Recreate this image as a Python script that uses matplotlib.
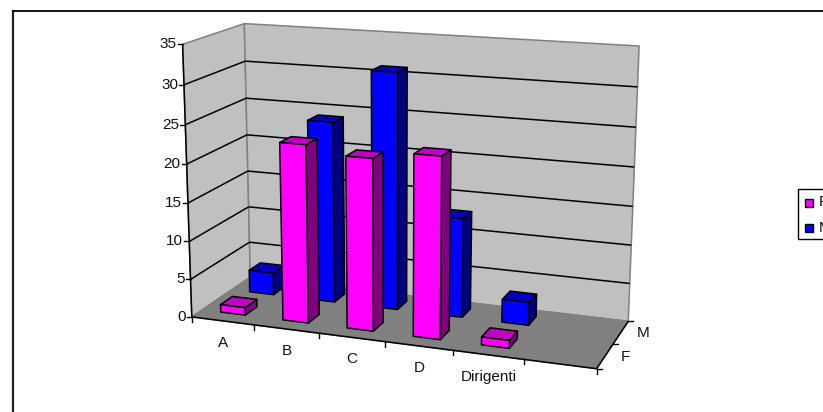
import numpy as np
import matplotlib
matplotlib.use('Agg')
import matplotlib.pyplot as plt
from matplotlib.patches import Polygon, Rectangle

plt.rcParams['font.family'] = ['Liberation Sans', 'DejaVu Sans']

############ data ##################################################################

# the sixth category is blank in the chart
categories = ['A', 'B', 'C', 'D', 'Dirigenti', '']
series_names = ['F', 'M']
values_F = [1, 23, 22, 23, 1, 0]
values_M = [3, 24, 31, 13, 3, 0]
value_ticks = [0, 5, 10, 15, 20, 25, 30, 35]

############ projection ############################################################

# box corners (category, series, value) and where they land on the picture
n_cat = len(categories)
box = [(0, 0, 0), (0, 0, 35), (0, 2, 0), (0, 2, 35), (n_cat, 2, 35), (n_cat, 2, 0), (n_cat, 0, 0)]
img = [(192, 316), (182, 45), (250, 278), (245, 23), (639, 46), (628, 321), (597, 369)]

def fit_camera(box, img):
    rows = []
    rhs = []
    for (x, y, z), (u, v) in zip(box, img):
        rows.append([x, y, z, 1, 0, 0, 0, 0, -u*x, -u*y, -u*z])
        rhs.append(u)
        rows.append([0, 0, 0, 0, x, y, z, 1, -v*x, -v*y, -v*z])
        rhs.append(v)
    m = np.linalg.lstsq(np.array(rows, float), np.array(rhs, float), rcond=None)[0]
    return np.append(m, 1).reshape(3, 4)

cam = fit_camera(box, img)

def proj(x, y, z):
    p = cam @ np.array([x, y, z, 1.0])
    return p[0]/p[2], p[1]/p[2]

def face(ax, pts, color, ec='black', lw=1.1, zorder=2):
    ax.add_patch(Polygon([proj(*p) for p in pts], closed=True, fc=color, ec=ec, lw=lw,
                         joinstyle='round', zorder=zorder))

def line(ax, a, b, color='black', lw=1.1, zorder=1.5):
    pa, pb = proj(*a), proj(*b)
    ax.plot([pa[0], pb[0]], [pa[1], pb[1]], color=color, lw=lw, zorder=zorder, solid_capstyle='butt')

def bar(ax, i, s, val, colors):
    x0, x1 = i + 0.3, i + 0.7
    y0, y1 = s + 0.34, s + 0.74
    face(ax, [(x1, y0, 0), (x1, y1, 0), (x1, y1, val), (x1, y0, val)], colors[2])
    face(ax, [(x0, y0, val), (x1, y0, val), (x1, y1, val), (x0, y1, val)], colors[1])
    face(ax, [(x0, y0, 0), (x1, y0, 0), (x1, y0, val), (x0, y0, val)], colors[0])

############ main code #############################################################

fig = plt.figure(figsize=(8.23, 4.12), dpi=100)
ax = fig.add_axes([0, 0, 1, 1])
ax.set_xlim(0, 823)
ax.set_ylim(412, 0)
ax.axis('off')

# outer frame
ax.plot([13, 13], [412, 10.5], color='#222222', lw=1.6)
ax.plot([13, 823], [10.5, 10.5], color='black', lw=1.3)

# walls and floor
face(ax, [(0, 0, 0), (0, 2, 0), (0, 2, 35), (0, 0, 35)], '#c0c0c0', ec='#808080', zorder=1)
face(ax, [(0, 2, 0), (n_cat, 2, 0), (n_cat, 2, 35), (0, 2, 35)], '#c0c0c0', ec='#808080', zorder=1)
face(ax, [(0, 0, 0), (n_cat, 0, 0), (n_cat, 2, 0), (0, 2, 0)], '#808080', ec='#808080', zorder=1)

for v in value_ticks[1:-1]:
    line(ax, (0, 0, v), (0, 2, v))
    line(ax, (0, 2, v), (n_cat, 2, v))

# axes lines
line(ax, (0, 0, 0), (0, 0, 35), zorder=1.6)
line(ax, (0, 0, 0), (n_cat, 0, 0), zorder=1.6)
line(ax, (n_cat, 0, 0), (n_cat, 2, 0), zorder=1.6)

for v in value_ticks:
    px, py = proj(0, 0, v)
    ax.plot([px-5, px], [py, py], color='black', lw=1.0)
    ax.text(px-6, py, str(v), ha='right', va='center', fontsize=11, color='#111111')

for i in range(n_cat+1):
    px, py = proj(i, 0, 0)
    ax.plot([px, px], [py, py+5], color='black', lw=1.0)

for i, c in enumerate(categories):
    px, py = proj(i+0.5, 0, 0)
    ax.text(px+0.5, py+22, c, ha='center', va='center', fontsize=11, color='#111111')

for s in range(3):
    px, py = proj(n_cat, s, 0)
    ax.plot([px, px+5], [py, py], color='black', lw=1.0)

for s, name in enumerate(series_names):
    px, py = proj(n_cat, s+0.5, 0)
    ax.text(px+16, py+1, name, ha='left', va='center', fontsize=11, color='#111111')

# back series first so the front one covers it
pink = ('#ff00ff', '#c000c0', '#800080')
blue = ('#0000ff', '#0000c0', '#000080')
for i, v in enumerate(values_M):
    if v > 0:
        bar(ax, i, 1, v, blue)
for i, v in enumerate(values_F):
    if v > 0:
        bar(ax, i, 0, v, pink)

# legend, runs off the right edge of the picture
ax.add_patch(Rectangle((798, 189), 40, 50, fc='white', ec='black', lw=1.0, zorder=3))
ax.add_patch(Rectangle((805, 199), 8, 8, fc='#ff00ff', ec='black', lw=1.0, zorder=4))
ax.add_patch(Rectangle((805, 224), 8, 8, fc='#0000ff', ec='black', lw=1.0, zorder=4))
ax.text(819, 202, series_names[0], ha='left', va='center', fontsize=11, color='#111111', zorder=4)
ax.text(819, 228, series_names[1], ha='left', va='center', fontsize=11, color='#111111', zorder=4)

fig.savefig('out.png', dpi=100)
